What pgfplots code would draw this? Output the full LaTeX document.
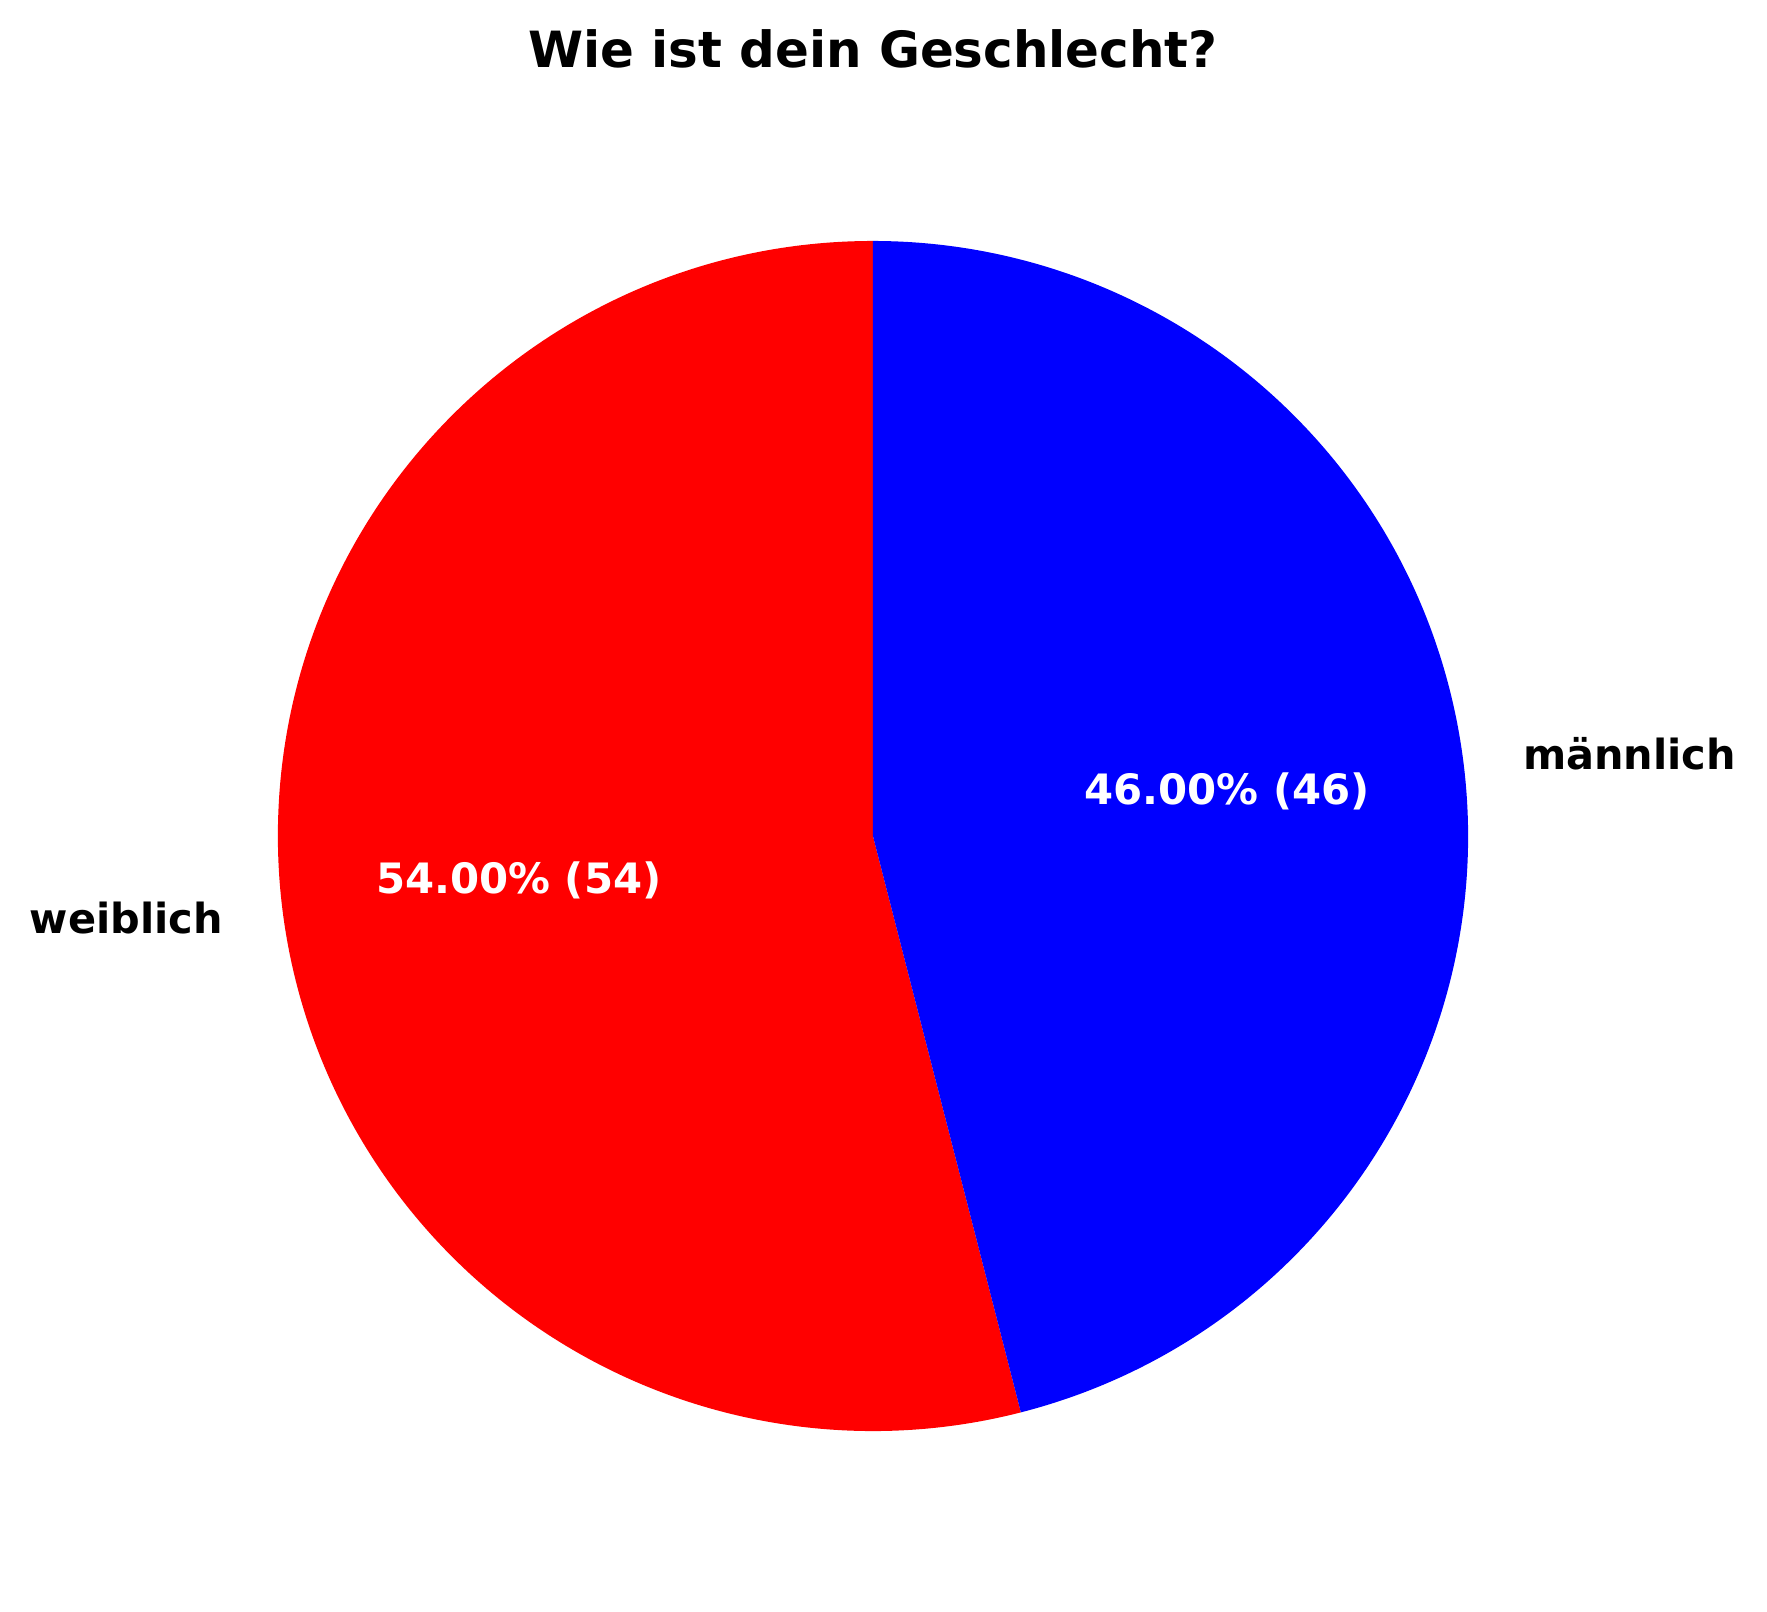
\documentclass[border=0pt]{standalone}
\usepackage{fontspec}
\setmainfont{DejaVu Sans}
\usepackage{pgfplots}
\pgfplotsset{compat=1.18}

% answers (counts)
\def\valW{54}
\def\valM{46}

\begin{document}
\begin{tikzpicture}
\pgfmathsetmacro{\total}{\valW+\valM}
\pgfmathsetmacro{\angW}{\valW/\total*360}
\pgfmathsetmacro{\angM}{\valM/\total*360}
\pgfmathsetmacro{\midW}{90+\angW/2}
\pgfmathsetmacro{\midM}{90+\angW+\angM/2}
\pgfmathsetmacro{\bx}{cos(90+\angW)}
\pgfmathsetmacro{\by}{sin(90+\angW)}
\pgfmathsetmacro{\lWx}{1.1*cos(\midW)}
\pgfmathsetmacro{\lWy}{1.1*sin(\midW)}
\pgfmathsetmacro{\lMx}{1.1*cos(\midM)}
\pgfmathsetmacro{\lMy}{1.1*sin(\midM)}
\pgfmathsetmacro{\pWx}{0.6*cos(\midW)}
\pgfmathsetmacro{\pWy}{0.6*sin(\midW)}
\pgfmathsetmacro{\pMx}{0.6*cos(\midM)}
\pgfmathsetmacro{\pMy}{0.6*sin(\midM)}
\begin{axis}[
    scale only axis,
    x=5.95cm, y=5.95cm,
    xmin=-1.467, xmax=1.5025,
    ymin=-1.304, ymax=1.405,
    hide axis,
    clip=false,
]
\path (rel axis cs:0,0) rectangle (rel axis cs:1,1);
% wedges
\fill[red] (axis cs:0,0) -- (axis cs:0,1)
    arc[start angle=90, delta angle=\angW, radius=5.95cm] -- cycle;
\fill[blue] (axis cs:0,0) -- (axis cs:\bx,\by)
    arc[start angle=90+\angW, delta angle=\angM, radius=5.95cm] -- cycle;
% labels
\node[anchor=east, inner sep=0pt, font=\fontsize{11.8}{14}\selectfont\bfseries]
    at (axis cs:\lWx,\lWy) {weiblich};
\node[anchor=west, inner sep=0pt, font=\fontsize{11.8}{14}\selectfont\bfseries]
    at (axis cs:\lMx,\lMy) {männlich};
\node[text=white, font=\fontsize{11.9}{14}\selectfont\bfseries]
    at (axis cs:\pWx,\pWy) {54.00\% (54)};
\node[text=white, font=\fontsize{11.9}{14}\selectfont\bfseries]
    at (axis cs:\pMx,\pMy) {46.00\% (46)};
% title
\node[font=\fontsize{14.2}{17}\selectfont\bfseries] at (axis cs:0,1.322)
    {Wie ist dein Geschlecht?};
\end{axis}
\end{tikzpicture}
\end{document}
